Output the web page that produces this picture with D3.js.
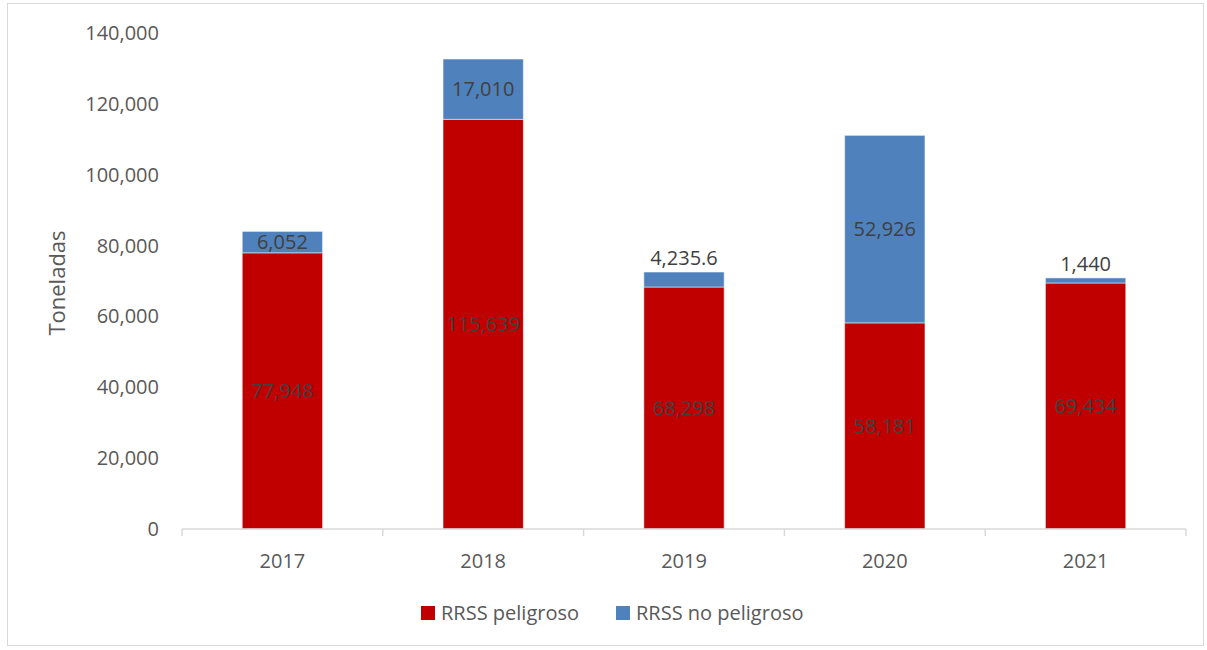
<!DOCTYPE html>
<html>
<head>
<meta charset="utf-8">
<script src="https://cdn.jsdelivr.net/npm/d3@7"></script>
<style>
  body { margin: 0; background: #fff; }
  text { font-family: "Open Sans", "Noto Sans", sans-serif; fill: #595959; }
</style>
</head>
<body>
<svg id="chart"></svg>
<script>
// data
const years = ["2017", "2018", "2019", "2020", "2021"];
const peligroso = [77948, 115639, 68298, 58181, 69434];
const noPeligroso = [6052, 17010, 4235.6, 52926, 1440];
const noPeligrosoLabels = ["6,052", "17,010", "4,235.6", "52,926", "1,440"];
const yTicks = [0, 20000, 40000, 60000, 80000, 100000, 120000, 140000];
const seriesNames = ["RRSS peligroso", "RRSS no peligroso"];
const colors = ["#c00000", "#4f81bd"];

const width = 1207, height = 650;
const margin = { top: 33, right: 21, bottom: 121, left: 182 };
const innerW = width - margin.left - margin.right;
const innerH = height - margin.top - margin.bottom;

const svg = d3.select("#chart").attr("width", width).attr("height", height);

// frame
svg.append("rect")
  .attr("x", 7.5).attr("y", 3.5)
  .attr("width", 1196).attr("height", 642)
  .attr("fill", "none").attr("stroke", "#d9d9d9");

const g = svg.append("g")
  .attr("transform", "translate(" + margin.left + "," + margin.top + ")");

// x
const x = d3.scaleBand().domain(years).range([0, innerW]).paddingInner(0.6).paddingOuter(0.3);
// y
const y = d3.scaleLinear().domain([0, 140000]).range([innerH, 0]);

// y labels (no axis line)
g.append("g")
  .selectAll("text")
  .data(yTicks)
  .enter()
  .append("text")
  .attr("x", -23)
  .attr("y", (d) => y(d))
  .attr("dy", "0.35em")
  .attr("text-anchor", "end")
  .style("font-size", "20px")
  .text((d) => d3.format(",")(d));

// stacked bars
const rows = years.map((yr, i) => ({ year: yr, a: peligroso[i], b: noPeligroso[i], label: noPeligrosoLabels[i] }));

g.append("g")
  .selectAll("rect")
  .data(rows)
  .enter()
  .append("rect")
  .attr("x", (d) => x(d.year))
  .attr("y", (d) => y(d.a))
  .attr("width", x.bandwidth())
  .attr("height", (d) => y(0) - y(d.a))
  .attr("fill", colors[0])
  .attr("stroke", "#fff")
  .attr("stroke-opacity", 0.5);

g.append("g")
  .selectAll("rect")
  .data(rows)
  .enter()
  .append("rect")
  .attr("x", (d) => x(d.year))
  .attr("y", (d) => y(d.a + d.b))
  .attr("width", x.bandwidth())
  .attr("height", (d) => y(d.a) - y(d.a + d.b))
  .attr("fill", colors[1])
  .attr("stroke", "#fff")
  .attr("stroke-opacity", 0.5);

// labels
g.append("g")
  .selectAll("text")
  .data(rows)
  .enter()
  .append("text")
  .attr("x", (d) => x(d.year) + x.bandwidth() / 2)
  .attr("y", (d) => (y(0) + y(d.a)) / 2)
  .attr("dy", "0.35em")
  .attr("text-anchor", "middle")
  .style("font-size", "20px")
  .style("fill", "#404040")
  .text((d) => d3.format(",")(d.a));

g.append("g")
  .selectAll("text")
  .data(rows)
  .enter()
  .append("text")
  .attr("x", (d) => x(d.year) + x.bandwidth() / 2)
  .attr("y", (d) => {
    const h = y(d.a) - y(d.a + d.b);
    return h < 20 ? y(d.a + d.b) - 14 : (y(d.a) + y(d.a + d.b)) / 2;
  })
  .attr("dy", "0.35em")
  .attr("text-anchor", "middle")
  .style("font-size", "20px")
  .style("fill", "#404040")
  .text((d) => d.label);

// x axis
const xAxis = g.append("g").attr("transform", "translate(0," + innerH + ")");
xAxis.append("line")
  .attr("x1", 0).attr("x2", innerW)
  .attr("stroke", "#d9d9d9").attr("stroke-width", 1.5);
xAxis.selectAll("line.tick")
  .data(d3.range(years.length + 1))
  .enter()
  .append("line")
  .attr("class", "tick")
  .attr("x1", (i) => i * innerW / years.length)
  .attr("x2", (i) => i * innerW / years.length)
  .attr("y1", 0).attr("y2", 7)
  .attr("stroke", "#d9d9d9").attr("stroke-width", 1.5);
xAxis.selectAll("text")
  .data(years)
  .enter()
  .append("text")
  .attr("x", (d) => x(d) + x.bandwidth() / 2)
  .attr("y", 32)
  .attr("dy", "0.35em")
  .attr("text-anchor", "middle")
  .style("font-size", "20px")
  .text((d) => d);

// y title
svg.append("text")
  .attr("transform", "translate(57,283) rotate(-90)")
  .attr("text-anchor", "middle")
  .attr("dy", "0.35em")
  .style("font-size", "22px")
  .text("Toneladas");

// legend
const legendX = [421, 616];
const legend = svg.append("g")
  .selectAll("g")
  .data(seriesNames)
  .enter()
  .append("g")
  .attr("transform", (d, i) => "translate(" + legendX[i] + ",613)");
legend.append("rect")
  .attr("x", 0).attr("y", -7)
  .attr("width", 14).attr("height", 14)
  .attr("fill", (d, i) => colors[i]);
legend.append("text")
  .attr("x", 20)
  .attr("dy", "0.35em")
  .style("font-size", "20px")
  .text((d) => d);
</script>
</body>
</html>
